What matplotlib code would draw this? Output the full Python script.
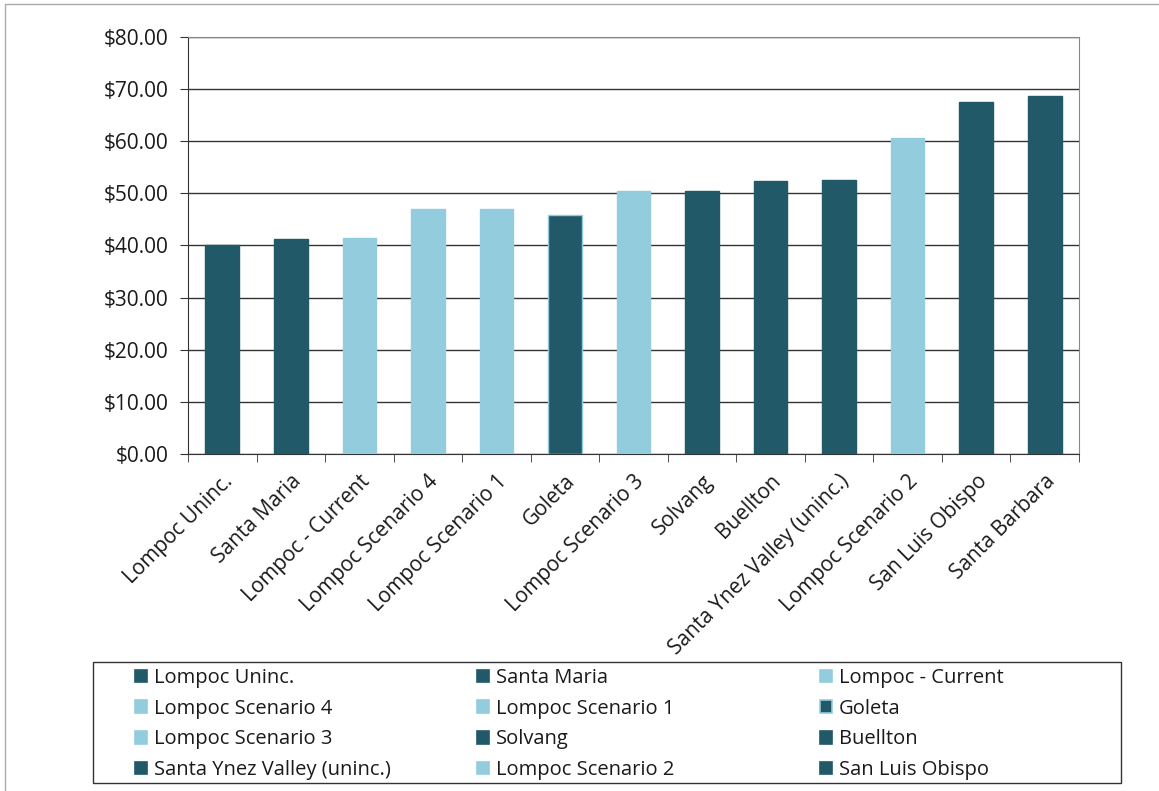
import matplotlib.pyplot as plt
from matplotlib.patches import Patch, Rectangle
from matplotlib.lines import Line2D
from matplotlib.ticker import FuncFormatter

# Data
places = ["Lompoc Uninc.", "Santa Maria", "Lompoc - Current", "Lompoc Scenario 4",
          "Lompoc Scenario 1", "Goleta", "Lompoc Scenario 3", "Solvang", "Buellton",
          "Santa Ynez Valley (uninc.)", "Lompoc Scenario 2", "San Luis Obispo",
          "Santa Barbara"]
rates = [40.0, 41.2, 41.4, 46.9, 46.9, 45.8, 50.5, 50.5, 52.3, 52.5, 60.6, 67.5, 68.6]
is_lompoc = [False, False, True, True, True, False, True, False, False, False,
             True, False, False]
y_ticks = [0, 10, 20, 30, 40, 50, 60, 70, 80]

dark = '#215968'
light = '#93CDDD'
txt = '#1a1a1a'

plt.rcParams['font.family'] = ['Open Sans', 'DejaVu Sans']

W, H = 1159, 791
fig = plt.figure(figsize=(W / 100, H / 100), dpi=100)
ax = fig.add_axes([188 / W, 1 - 454 / H, (1079 - 188) / W, (454 - 36.7) / H])

colors = [light if l else dark for l in is_lompoc]
edges = [light if (l or p == "Goleta") else dark for l, p in zip(is_lompoc, places)]
x = range(len(places))
ax.bar(x, rates, width=0.49, color=colors, edgecolor=edges, linewidth=1.0, zorder=3)

ax.set_xlim(-0.5, len(places) - 0.5)
ax.set_ylim(0, 80)
ax.set_yticks(y_ticks)
ax.yaxis.set_major_formatter(FuncFormatter(lambda v, p: f"${v:.2f}"))
ax.grid(axis='y', color='#333333', linewidth=1.0, zorder=0)

ax.set_xticks(list(x))
ax.set_xticklabels(places, rotation=45, ha='right', rotation_mode='anchor')
ax.set_xticks([i + 0.5 for i in range(-1, len(places))], minor=True)
ax.tick_params(axis='x', which='major', length=0, pad=12, labelsize=15, colors=txt)
ax.tick_params(axis='x', which='minor', length=6, direction='out', color='#333333')
ax.tick_params(axis='y', length=6, direction='out', labelsize=15, color='#333333',
               labelcolor=txt, pad=8)

for s in ['left', 'bottom']:
    ax.spines[s].set_color('#333333')
for s in ['top', 'right']:
    ax.spines[s].set_color('#888888')

# legend: 3 columns of 4 rows, filled row by row, Santa Barbara left out
col_x = [135, 477, 820]
for c in range(3):
    idx = [r * 3 + c for r in range(4)]
    hs = [Patch(facecolor=colors[i], edgecolor=edges[i], linewidth=1.2) for i in idx]
    leg = fig.legend(hs, [places[i] for i in idx], loc='upper left',
                     bbox_to_anchor=(col_x[c] / W, 1 - 668 / H), frameon=False,
                     fontsize=14.5, handlelength=0.6, handleheight=0.6,
                     handletextpad=0.35, labelspacing=0.53, borderpad=0,
                     borderaxespad=0)
    for t in leg.get_texts():
        t.set_color(txt)

fig.patches.append(Rectangle((93 / W, 1 - 783 / H), (1121 - 93) / W, (783 - 662) / H,
                             transform=fig.transFigure, fill=False,
                             edgecolor='#333333', linewidth=1.0))

# outer chart border (top and left visible)
fig.lines.append(Line2D([5 / W, 5 / W, 1], [0, 1 - 4 / H, 1 - 4 / H],
                        transform=fig.transFigure, color='#aaaaaa', linewidth=1.0))

fig.savefig('out.png', dpi=100)
